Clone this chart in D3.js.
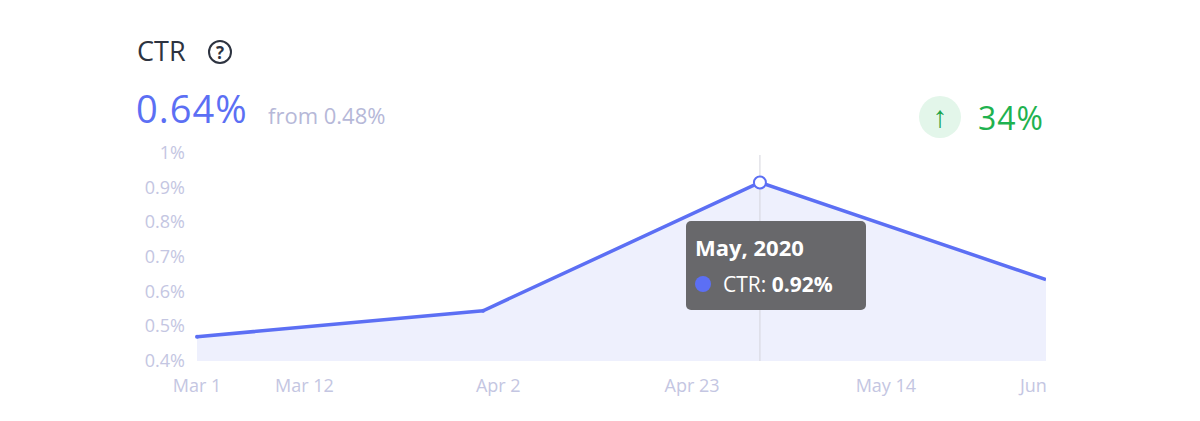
<!DOCTYPE html>
<html><head><meta charset="utf-8">
<script src="https://cdn.jsdelivr.net/npm/d3@7"></script>
<style>body{margin:0;background:#fff;font-family:"Open Sans",sans-serif}</style>
</head><body><svg id="c" width="1200" height="421"></svg>
<script>
// chart data
const dates = ['2020-03-01', '2020-04-01', '2020-05-01', '2020-06-01'];
const ctr = [0.47, 0.545, 0.915, 0.635];
const yTicks = [0.4, 0.5, 0.6, 0.7, 0.8, 0.9, 1];
const xTicks = ['2020-03-01', '2020-03-12', '2020-04-02', '2020-04-23', '2020-05-14', '2020-06-04'];

const parse = d3.timeParse('%Y-%m-%d');
const svg = d3.select('#c');
const x = d3.scaleTime().domain([parse('2020-03-01'), parse('2020-06-01')]).range([197, 1046]);
const y = d3.scaleLinear().domain([0.4, 1]).range([361, 153]);

svg.append('clipPath').attr('id', 'clip').append('rect')
  .attr('x', 0).attr('y', 0).attr('width', 1046).attr('height', 421);

const pts = dates.map((d, i) => ({ d: parse(d), v: ctr[i] }));
const plot = svg.append('g').attr('clip-path', 'url(#clip)');

plot.append('path').datum(pts)
  .attr('d', d3.area().x(p => x(p.d)).y0(y(0.4)).y1(p => y(p.v)))
  .attr('fill', '#eef0fd');

// hover guide line
const hover = pts[2];
plot.append('line')
  .attr('x1', x(hover.d)).attr('x2', x(hover.d))
  .attr('y1', 155).attr('y2', y(0.4))
  .attr('stroke', '#d4d4dc').attr('stroke-width', 1);

plot.append('path').datum(pts)
  .attr('d', d3.line().x(p => x(p.d)).y(p => y(p.v)))
  .attr('fill', 'none').attr('stroke', '#5c6ff4').attr('stroke-width', 3.5);

plot.selectAll('.dot').data([pts[0], pts[1]]).enter().append('circle')
  .attr('cx', p => x(p.d)).attr('cy', p => y(p.v)).attr('r', 2)
  .attr('fill', '#5c6ff4');

plot.append('circle').attr('cx', x(hover.d)).attr('cy', y(hover.v)).attr('r', 6)
  .attr('fill', '#fff').attr('stroke', '#5c6ff4').attr('stroke-width', 2);

// y axis labels
svg.append('g').selectAll('text').data(yTicks).enter().append('text')
  .attr('x', 185).attr('y', d => y(d) + 6)
  .attr('text-anchor', 'end').attr('font-size', 18).attr('fill', '#c4c6e2')
  .text(d => d3.format('.1~f')(d) + '%');

// x axis labels
const fmt = d3.timeFormat('%b %-d');
const xg = svg.append('g').attr('clip-path', 'url(#clip)');
xg.selectAll('text').data(xTicks).enter().append('text')
  .attr('x', (d, i) => i === xTicks.length - 1 ? x(parse(dates[3])) - 26 : x(parse(d)) + (i === 0 ? 0 : 6))
  .attr('y', 392)
  .attr('text-anchor', (d, i) => i === xTicks.length - 1 ? 'start' : 'middle')
  .attr('font-size', 18).attr('fill', '#c4c6e2')
  .text(d => fmt(parse(d)));

// header
svg.append('text').attr('x', 137).attr('y', 61).attr('font-size', 27).attr('fill', '#2d3340').text('CTR');
svg.append('circle').attr('cx', 220).attr('cy', 52).attr('r', 11)
  .attr('fill', 'none').attr('stroke', '#2d3340').attr('stroke-width', 2);
svg.append('text').attr('x', 220).attr('y', 59).attr('text-anchor', 'middle')
  .attr('font-size', 17).attr('font-weight', 'bold').attr('fill', '#2d3340').text('?');

svg.append('text').attr('x', 136).attr('y', 123).attr('font-size', 38).attr('letter-spacing', 1).attr('fill', '#5c6ff4').text('0.64%');
svg.append('text').attr('x', 268).attr('y', 124).attr('font-size', 22).attr('fill', '#b6b8d8').text('from 0.48%');

svg.append('circle').attr('cx', 940).attr('cy', 117).attr('r', 21).attr('fill', '#e3f6ea');
svg.append('text').attr('x', 940).attr('y', 127).attr('text-anchor', 'middle')
  .attr('font-size', 30).attr('font-weight', 'bold').attr('fill', '#1aa34a').text('↑');
svg.append('text').attr('x', 978).attr('y', 130).attr('font-size', 32).attr('letter-spacing', 1).attr('fill', '#1fb24f').text('34%');

// tooltip
const tip = svg.append('g').attr('transform', 'translate(686,221)');
tip.append('rect').attr('width', 180).attr('height', 89).attr('rx', 5).attr('fill', '#68686b');
tip.append('text').attr('x', 9).attr('y', 35).attr('font-size', 22).attr('font-weight', 'bold')
  .attr('fill', '#fff').text(d3.timeFormat('%B, %Y')(hover.d));
tip.append('circle').attr('cx', 17).attr('cy', 63).attr('r', 8).attr('fill', '#5c6ff4');
const t2 = tip.append('text').attr('x', 37).attr('y', 71).attr('font-size', 21).attr('fill', '#fff');
t2.append('tspan').text('CTR: ');
t2.append('tspan').attr('font-weight', 'bold').text('0.92%');
</script></body></html>
